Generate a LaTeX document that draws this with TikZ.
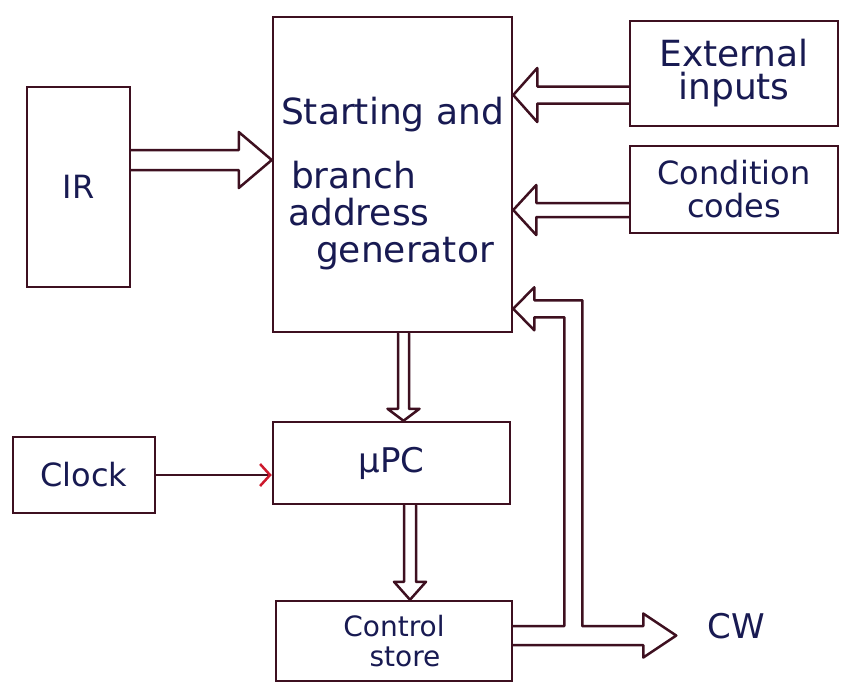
\documentclass[tikz,border=0pt]{standalone}
\usepackage{fontspec}
\setmainfont{DejaVu Sans}
\usetikzlibrary{calc,arrows.meta}

\definecolor{ink}{RGB}{62,16,32}
\definecolor{pen}{RGB}{24,26,82}
\definecolor{tipred}{RGB}{205,25,45}

% hollow "bus" arrow: start, tip, half gap of the shaft, half width of the head, head length
\newcommand{\fatarrow}[5]{%
  \path ($(#2)!#5!(#1)$) coordinate (fabase);
  \draw[wire] ($(#1)!#3!90:(#2)$) -- ($(fabase)!#3!90:(#2)$)
    -- ($(fabase)!#4!90:(#2)$) -- (#2) -- ($(fabase)!#4!-90:(#2)$)
    -- ($(fabase)!#3!-90:(#2)$) -- ($(#1)!#3!-90:(#2)$);
}

\tikzset{
  wire/.style={draw=ink, line width=2.5pt, line join=round, line cap=round},
  box/.style={draw=ink, line width=2.5pt, text=pen, inner sep=0pt, align=center},
  lbl/.style={text=pen, inner sep=0pt},
}

\begin{document}
\begin{tikzpicture}[x=1pt,y=-1pt]
  \fill[white] (0,0) rectangle (845,686);
  \useasboundingbox (0,0) rectangle (845,686);

  % blocks
  \node[box, minimum width=103pt, minimum height=200pt,
        font=\fontsize{32}{34}\selectfont] (ir) at (78.5,187) {IR};
  \node[box, minimum width=239pt, minimum height=315pt, align=left,
        font=\fontsize{36}{37}\selectfont] (gen) at (392.5,174.5)
        {\rule{0pt}{46pt}Starting and\\[27pt]\hspace*{10pt}branch\\\hspace*{7pt}address\\\hspace*{35pt}generator};
  \node[box, minimum width=208pt, minimum height=105pt,
        font=\fontsize{36}{33}\selectfont] (ext) at (734,73.5) {External\\inputs};
  \node[box, minimum width=208pt, minimum height=87pt,
        font=\fontsize{32}{33}\selectfont] (cond) at (734,189.5) {Condition\\codes};
  \node[box, minimum width=142pt, minimum height=76pt,
        font=\fontsize{32}{34}\selectfont] (clock) at (84,475) {Clock};
  \node[box, minimum width=237pt, minimum height=82pt,
        font=\fontsize{34}{36}\selectfont] (mpc) at (391.5,463) {μPC};
  \node[box, minimum width=236pt, minimum height=80pt,
        font=\fontsize{28}{30}\selectfont] (cs) at (394,641) {Control\\\hspace*{22pt}store};

  % bus arrows into the address generator
  \coordinate (irOut) at ($(ir.east)+(0,-27)$);
  \coordinate (genInA) at ($(gen.west)+(0,-14.5)$);
  \fatarrow{irOut}{genInA}{10pt}{28pt}{33pt}

  \coordinate (extOut) at ($(ext.west)+(0,21.5)$);
  \coordinate (genInB) at ($(gen.east)+(0,-79.5)$);
  \fatarrow{extOut}{genInB}{8.5pt}{27pt}{24pt}

  \coordinate (condOut) at ($(cond.west)+(0,20.5)$);
  \coordinate (genInC) at ($(gen.east)+(0,35.5)$);
  \fatarrow{condOut}{genInC}{7pt}{25pt}{23pt}

  % generator -> MPC -> control store
  \coordinate (genOut) at ($(gen.south)+(11,0)$);
  \coordinate (mpcIn) at ($(mpc.north)+(12,0)$);
  \fatarrow{genOut}{mpcIn}{5.5pt}{16pt}{12pt}

  \coordinate (mpcOut) at ($(mpc.south)+(18.5,0)$);
  \coordinate (csIn) at ($(cs.north)+(16,0)$);
  \fatarrow{mpcOut}{csIn}{6pt}{16pt}{18pt}

  % clock line
  \draw[wire, -{Straight Barb[length=10pt,width=22pt,line width=2.5pt,color=tipred]}]
    (clock.east) -- (mpc.west |- clock.east);

  % control word out, with the feedback branch to the generator
  \coordinate (csA) at ($(cs.east)+(0,-15)$);
  \coordinate (csB) at ($(cs.east)+(0,4)$);
  \coordinate (fbTip) at ($(gen.south east)+(0,-24.5)$);
  \coordinate (cwTip) at ($(cs.east)+(163,-5.5)$);
  \draw[wire] (csA) -- ++(51,0) |- ($(fbTip)+(21,8.5)$)
    -- ($(fbTip)+(21,21.5)$) -- (fbTip) -- ($(fbTip)+(21,-21.5)$)
    -- ($(fbTip)+(21,-8.5)$) -| ($(csA)+(69,0)$)
    -- ($(cwTip)+(-33,-9.5)$) -- ($(cwTip)+(-33,-22)$) -- (cwTip)
    -- ($(cwTip)+(-33,22)$) -- ($(cwTip)+(-33,9.5)$) -- (csB);

  \node[lbl, font=\fontsize{34}{36}\selectfont] (cw) at ($(cwTip)+(60,-9)$) {CW};
\end{tikzpicture}
\end{document}
